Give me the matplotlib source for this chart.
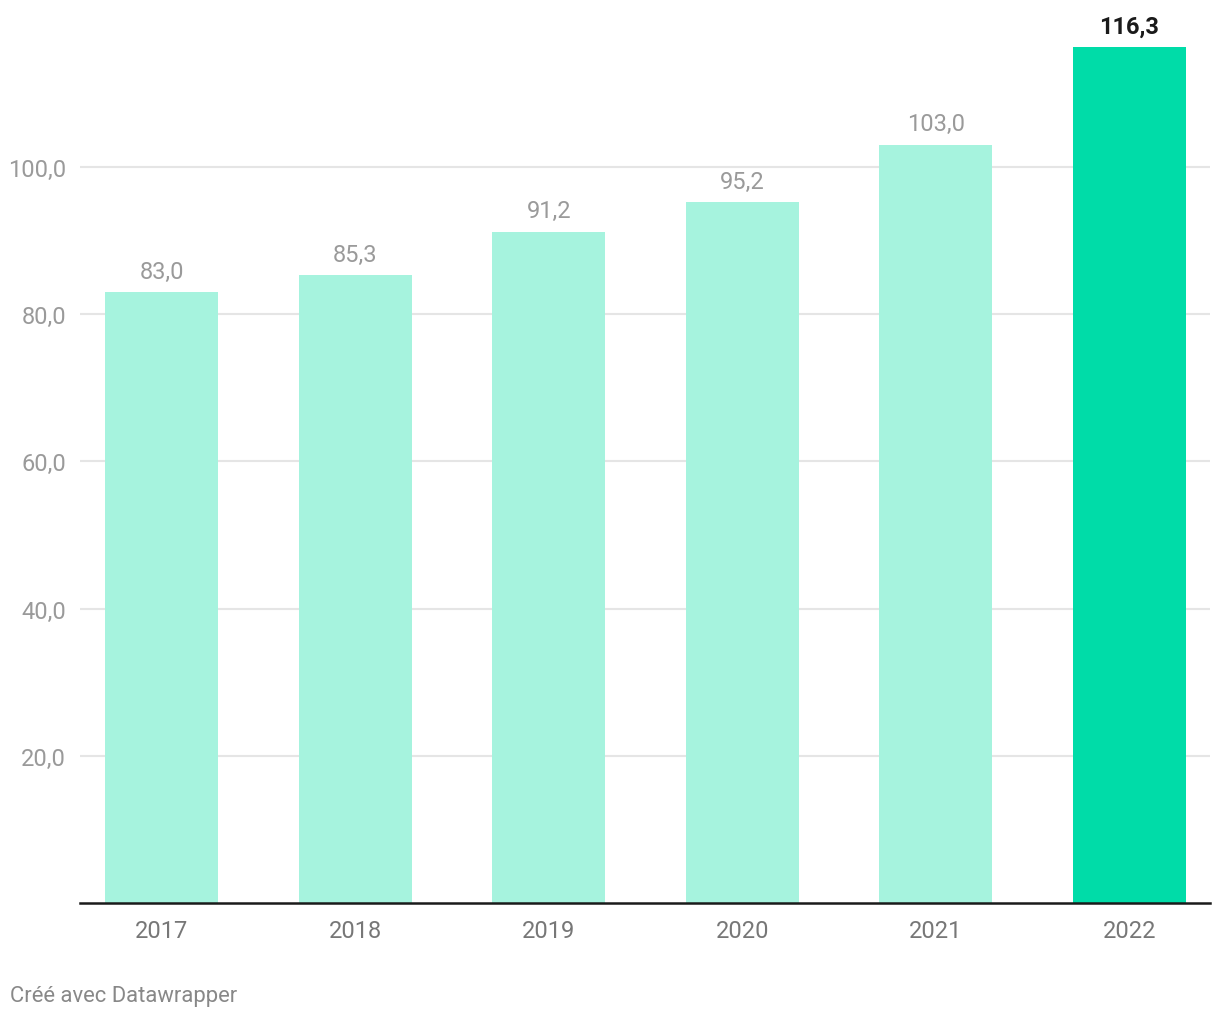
import matplotlib.pyplot as plt

plt.rcParams['font.family'] = ['Roboto', 'DejaVu Sans']

years = ['2017', '2018', '2019', '2020', '2021', '2022']
values = [83.0, 85.3, 91.2, 95.2, 103.0, 116.3]
highlight = '2022'
yticks = [20, 40, 60, 80, 100]

W, H = 1220, 1020
fig = plt.figure(figsize=(W / 100, H / 100), dpi=100)
# axes box in pixels: left 80, right 1210, baseline ~903.5, top 21
ax = fig.add_axes([80 / W, (H - 903.8) / H, 1130 / W, 882.8 / H])

x = list(range(len(years)))
colors = ['#00dca8' if y == highlight else '#a6f3de' for y in years]
ax.bar(x, values, width=0.584, color=colors, zorder=2)

ax.set_xlim(-0.421, 5.416)
ax.set_ylim(0, 120)

ax.set_yticks(yticks)
ax.set_yticklabels([f'{v:.1f}'.replace('.', ',') for v in yticks])
ax.yaxis.grid(True, color='#e5e5e5', linewidth=1.5, zorder=0)
ax.tick_params(axis='y', length=0, pad=10, labelsize=17, labelcolor='#9a9a9a')

ax.set_xticks(x)
ax.set_xticklabels(years)
ax.tick_params(axis='x', length=0, pad=12, labelsize=17, labelcolor='#777777')

for s in ['top', 'right', 'left']:
    ax.spines[s].set_visible(False)
ax.spines['bottom'].set_color('#1a1a1a')
ax.spines['bottom'].set_linewidth(1.8)
ax.spines['bottom'].set_zorder(3)

for xi, yr, v in zip(x, years, values):
    lab = f'{v:.1f}'.replace('.', ',')
    if yr == highlight:
        ax.annotate(lab, (xi, v), xytext=(0, 7), textcoords='offset points',
                    ha='center', va='bottom', fontsize=17, fontweight='bold',
                    color='#1a1a1a')
    else:
        ax.annotate(lab, (xi, v), xytext=(0, 7), textcoords='offset points',
                    ha='center', va='bottom', fontsize=17, color='#9a9a9a')

fig.text(10 / W, 1 - 997 / H, 'Créé avec Datawrapper', fontsize=15.8,
         color='#888888', ha='left', va='center')

fig.savefig('out.png', dpi=100, facecolor='white')
